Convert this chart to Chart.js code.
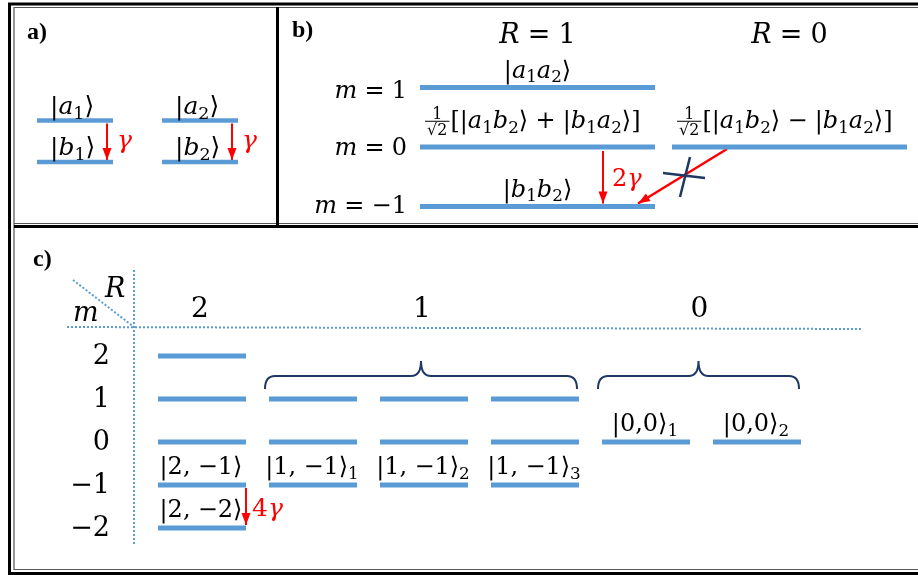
<!DOCTYPE html>
<html>
<head>
<meta charset="utf-8">
<script src="https://cdn.jsdelivr.net/npm/chart.js@4.4.1/dist/chart.umd.min.js"></script>
<style>
  html, body { margin: 0; padding: 0; background: #fff; }
  #diagram { display: block; }
</style>
</head>
<body>
<canvas id="diagram" width="918" height="575"></canvas>
<script>
// a) two independent two-level atoms
const atoms = ["1", "2"];
const atomStates = ["a", "b"];
const decayA = "γ";

// b) two atoms: collective states by R and m
const pairR = [1, 0];
const pairM = [1, 0, -1];
const pairStates = [
    { R: 1, m: 1, label: "|a_1a_2⟩" },
    { R: 1, m: 0, label: "\u0001[|a_1b_2⟩ + |b_1a_2⟩]" },
    { R: 1, m: -1, label: "|b_1b_2⟩" },
    { R: 0, m: 0, label: "\u0001[|a_1b_2⟩ − |b_1a_2⟩]" }
];
const decayB = "2γ";

// c) four atoms: R = 2, 1, 0 with multiplicity 1, 3, 2
const fourR = [2, 1, 0];
const fourCopies = [1, 3, 2];
const fourM = [2, 1, 0, -1, -2];
const fourLabels = [
    { R: 2, copy: 0, m: -1, text: "|2, −1⟩" },
    { R: 2, copy: 0, m: -2, text: "|2, −2⟩" },
    { R: 1, copy: 0, m: -1, text: "|1, −1⟩_1" },
    { R: 1, copy: 1, m: -1, text: "|1, −1⟩_2" },
    { R: 1, copy: 2, m: -1, text: "|1, −1⟩_3" },
    { R: 0, copy: 0, m: 0, text: "|0,0⟩_1" },
    { R: 0, copy: 1, m: 0, text: "|0,0⟩_2" }
];
const decayC = "4γ";

const BLUE = "#5b9bd5";
const RED = "#ff0000";
const NAVY = "#1f3864";
const MATH = '"DejaVu Serif", "Liberation Serif", serif';
const BOLD = '"Liberation Serif", serif';

// layout of each panel (value -> canvas units)
const aX = (i) => 37 + 125 * i;
const aY = (s) => (s === "a" ? 120.5 : 162);
const bX = (R) => (R === 1 ? 420 : 672);
const bY = (m) => 147 - 59.5 * m;
const cSlot = (R, copy) => {
    let k = 0;
    for (let i = 0; i < fourR.indexOf(R); i++) k += fourCopies[i];
    return k + copy;
};
const cX = (slot) => 158 + 111 * slot;
const cY = (m) => 442 - 43 * m;

function segment(x0, y0, x1, y1, color, width, extra) {
    return Object.assign({
        data: [{ x: x0, y: y0 }, { x: x1, y: y1 }],
        borderColor: color,
        borderWidth: width,
        pointRadius: 0,
        fill: false,
        clip: false
    }, extra || {});
}

const datasets = [];

// panel a levels and decay arrows
atoms.forEach((id, i) => {
    atomStates.forEach((s) => {
        datasets.push(segment(aX(i), aY(s), aX(i) + 76, aY(s), BLUE, 4.5));
    });
    datasets.push(segment(aX(i) + 70, aY("a") + 3, aX(i) + 70, aY("b") - 2, RED, 2, { arrow: true }));
});

// panel b levels
pairStates.forEach((st) => {
    datasets.push(segment(bX(st.R), bY(st.m), bX(st.R) + 235, bY(st.m), BLUE, 5));
});
datasets.push(segment(bX(1) + 183, bY(0) + 4, bX(1) + 183, bY(-1) - 3, RED, 2, { arrow: true }));
datasets.push(segment(bX(0) + 55, bY(0) + 2, bX(1) + 218, bY(-1) - 3, RED, 2.5, { arrow: true }));

// panel c grid lines
datasets.push(segment(134, 270, 134, 545, BLUE, 2, { borderDash: [2, 2] }));
datasets.push(segment(67, 327, 863, 329, BLUE, 2, { borderDash: [2, 2] }));
datasets.push(segment(73, 280, 134, 327, BLUE, 2, { borderDash: [2, 2] }));

// panel c levels
fourR.forEach((R, ri) => {
    for (let copy = 0; copy < fourCopies[ri]; copy++) {
        const x = cX(cSlot(R, copy));
        fourM.filter((m) => Math.abs(m) <= R).forEach((m) => {
            datasets.push(segment(x, cY(m), x + 88, cY(m), BLUE, 5));
        });
    }
});
datasets.push(segment(cX(0) + 88, cY(-1) + 3, cX(0) + 88, cY(-2) - 3, RED, 2, { arrow: true }));

// ---- math text ----
function mathRuns(text) {
    const runs = [];
    for (let i = 0; i < text.length; i++) {
        const ch = text[i];
        if (ch === "_") {
            runs.push({ t: text[i + 1], sub: true });
            i++;
        } else if (ch === "\u0001") {
            runs.push({ frac: true });
        } else {
            runs.push({ t: ch });
        }
    }
    return runs;
}

function runFont(r, size) {
    const italic = /[A-Za-zγ]/.test(r.t);
    const s = r.sub ? size * 0.7 : size;
    return (italic ? "italic " : "") + s + "px " + MATH;
}

function runWidth(ctx, r, size) {
    if (r.frac) return size * 1.1;
    if (r.t === " ") return size * 0.3;
    ctx.font = runFont(r, size);
    return ctx.measureText(r.t).width;
}

function drawMath(ctx, text, x, y, size, align, color) {
    const runs = mathRuns(text);
    let total = 0;
    runs.forEach((r) => (total += runWidth(ctx, r, size)));
    let cx = align === "center" ? x - total / 2 : align === "right" ? x - total : x;
    ctx.fillStyle = color;
    ctx.strokeStyle = color;
    ctx.textBaseline = "alphabetic";
    ctx.textAlign = "left";
    runs.forEach((r) => {
        const w = runWidth(ctx, r, size);
        if (r.frac) {
            const fs = size * 0.66;
            const bar = y - size * 0.28;
            ctx.font = fs + "px " + MATH;
            ctx.textAlign = "center";
            ctx.fillText("1", cx + w / 2, bar - 2);
            ctx.fillText("√2", cx + w / 2, bar + fs * 0.88);
            ctx.lineWidth = 1;
            ctx.beginPath();
            ctx.moveTo(cx + 1, bar);
            ctx.lineTo(cx + w - 1, bar);
            ctx.stroke();
            ctx.textAlign = "left";
        } else if (r.t !== " ") {
            ctx.font = runFont(r, size);
            ctx.fillText(r.t, cx, r.sub ? y + size * 0.2 : y);
        }
        cx += w;
    });
}

function brace(ctx, x0, x1, yLine, yEnd, yTip) {
    const xm = (x0 + x1) / 2;
    const r = 10;
    ctx.beginPath();
    ctx.moveTo(x0, yEnd);
    ctx.quadraticCurveTo(x0, yLine, x0 + r, yLine);
    ctx.lineTo(xm - r, yLine);
    ctx.quadraticCurveTo(xm, yLine, xm, yTip);
    ctx.quadraticCurveTo(xm, yLine, xm + r, yLine);
    ctx.lineTo(x1 - r, yLine);
    ctx.quadraticCurveTo(x1, yLine, x1, yEnd);
    ctx.stroke();
}

const diagramPlugin = {
    id: "diagram",
    beforeDraw(chart) {
        const ctx = chart.ctx;
        ctx.save();
        ctx.fillStyle = "#fff";
        ctx.fillRect(0, 0, chart.width, chart.height);
        ctx.restore();
    },
    afterDatasetsDraw(chart) {
        const ctx = chart.ctx;
        const sx = chart.scales.x;
        const sy = chart.scales.y;
        const px = (v) => sx.getPixelForValue(v);
        const py = (v) => sy.getPixelForValue(v);
        ctx.save();

        // arrow heads
        chart.data.datasets.forEach((ds) => {
            if (!ds.arrow) return;
            const p0 = ds.data[0];
            const p1 = ds.data[1];
            const x1 = px(p1.x), y1 = py(p1.y);
            const ang = Math.atan2(y1 - py(p0.y), x1 - px(p0.x));
            const L = 12, W = 4.5;
            ctx.fillStyle = ds.borderColor;
            ctx.beginPath();
            ctx.moveTo(x1, y1);
            ctx.lineTo(x1 - L * Math.cos(ang) - W * Math.sin(ang), y1 - L * Math.sin(ang) + W * Math.cos(ang));
            ctx.lineTo(x1 - L * Math.cos(ang) + W * Math.sin(ang), y1 - L * Math.sin(ang) - W * Math.cos(ang));
            ctx.closePath();
            ctx.fill();
        });

        // frame
        ctx.lineCap = "butt";
        const line = (x0, y0, x1, y1, w, c) => {
            ctx.strokeStyle = c;
            ctx.lineWidth = w;
            ctx.beginPath();
            ctx.moveTo(px(x0), py(y0));
            ctx.lineTo(px(x1), py(y1));
            ctx.stroke();
        };
        line(8, 4, 918, 4, 3, "#000");
        line(14, 7.5, 918, 7.5, 1.2, "#555");
        line(9.5, 3, 9.5, 575, 3, "#000");
        line(14, 7, 14, 570, 1.2, "#555");
        line(8, 573.5, 918, 573.5, 3, "#000");
        line(14, 569.5, 918, 569.5, 1.2, "#555");
        line(14, 223.5, 918, 223.5, 1.2, "#555");
        line(14, 226.5, 918, 226.5, 3, "#000");
        line(277.5, 7, 277.5, 225, 3, "#000");

        // panel labels
        ctx.fillStyle = "#000";
        ctx.font = "bold 24px " + BOLD;
        ctx.textAlign = "left";
        ctx.textBaseline = "alphabetic";
        ctx.fillText("a)", px(27), py(39));
        ctx.fillText("b)", px(292), py(37));
        ctx.fillText("c)", px(33), py(266));

        // panel a text
        atoms.forEach((id, i) => {
            atomStates.forEach((s) => {
                drawMath(ctx, "|" + s + "_" + id + "⟩", px(aX(i) + 13), py(aY(s) - 7), 25, "left", "#000");
            });
            drawMath(ctx, decayA, px(aX(i) + 80), py(148), 25, "left", RED);
        });

        // panel b text
        pairR.forEach((R) => {
            drawMath(ctx, "R = " + R, px(bX(R) + 117.5), py(43), 27, "center", "#000");
        });
        pairM.forEach((m) => {
            drawMath(ctx, "m = " + (m < 0 ? "−" + -m : m), px(407), py(bY(m) + 8 + 2 * m), 24, "right", "#000");
        });
        pairStates.forEach((st) => {
            if (st.label[0] === "\u0001") {
                drawMath(ctx, st.label, px(bX(st.R) + 4), py(bY(st.m) - 19), 24, "left", "#000");
            } else {
                drawMath(ctx, st.label, px(bX(st.R) + 117.5), py(bY(st.m) - 10), 24, "center", "#000");
            }
        });
        drawMath(ctx, decayB, px(bX(1) + 192), py(186), 24, "left", RED);

        // forbidden transition cross
        ctx.strokeStyle = NAVY;
        ctx.lineWidth = 2.5;
        const cxp = px(684), cyp = py(176);
        ctx.beginPath();
        ctx.moveTo(cxp - 21, cyp - 3);
        ctx.lineTo(cxp + 21, cyp + 2);
        ctx.moveTo(cxp + 6, cyp - 19);
        ctx.lineTo(cxp - 4, cyp + 21);
        ctx.stroke();

        // panel c text
        drawMath(ctx, "R", px(105), py(297), 27, "left", "#000");
        drawMath(ctx, "m", px(73), py(321), 27, "left", "#000");
        fourR.forEach((R, ri) => {
            const x0 = cX(cSlot(R, 0));
            const x1 = cX(cSlot(R, fourCopies[ri] - 1)) + 88;
            drawMath(ctx, String(R), px((x0 + x1) / 2 - 2), py(317), 28, "center", "#000");
            if (fourCopies[ri] > 1) {
                ctx.strokeStyle = NAVY;
                ctx.lineWidth = 2;
                brace(ctx, px(x0 - 4), px(x1 - 2), py(376), py(389), py(361));
            }
        });
        fourM.forEach((m) => {
            drawMath(ctx, m < 0 ? "−" + -m : String(m), px(110), py(cY(m) + 8), 27, "right", "#000");
        });
        fourLabels.forEach((lb) => {
            const x = cX(cSlot(lb.R, lb.copy));
            drawMath(ctx, lb.text, px(x + 43), py(cY(lb.m) - 11), 24, "center", "#000");
        });
        drawMath(ctx, decayC, px(cX(0) + 94), py(516), 25, "left", RED);

        ctx.restore();
    }
};

new Chart(document.getElementById("diagram"), {
    type: "line",
    data: { datasets: datasets },
    options: {
        responsive: false,
        animation: false,
        events: [],
        layout: { padding: 0 },
        plugins: {
            legend: { display: false },
            tooltip: { enabled: false }
        },
        elements: {
            point: { radius: 0 },
            line: { tension: 0, borderCapStyle: "butt" }
        },
        scales: {
            x: { type: "linear", min: 0, max: 918, display: false },
            y: { type: "linear", min: 0, max: 575, reverse: true, display: false }
        }
    },
    plugins: [diagramPlugin]
});
</script>
</body>
</html>
